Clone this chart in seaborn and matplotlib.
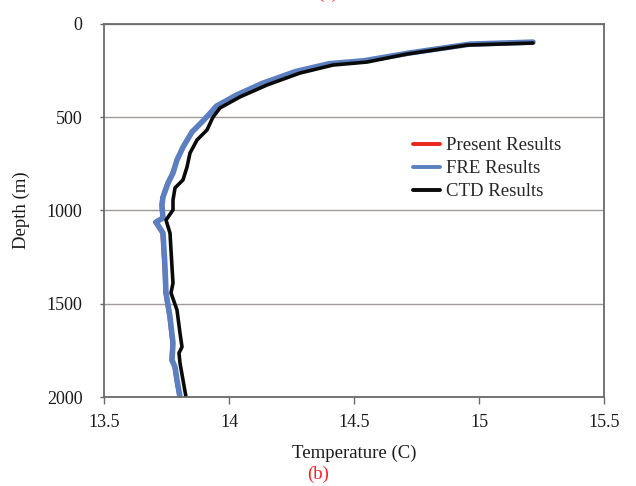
import numpy as np
import pandas as pd
import matplotlib
matplotlib.use("Agg")
import matplotlib.pyplot as plt
import seaborn as sns

# ---- data ----
ctd_temp = [15.216, 14.952, 14.712, 14.552, 14.416, 14.284, 14.152, 14.044, 13.964, 13.936,
            13.912, 13.872, 13.844, 13.832, 13.816, 13.784, 13.776, 13.776, 13.748, 13.764,
            13.772, 13.776, 13.768, 13.792, 13.804, 13.812, 13.800, 13.804, 13.816, 13.828]
ctd_depth = [102, 113, 161, 204, 220, 263, 327, 391, 450, 499,
             568, 622, 692, 767, 836, 879, 944, 997, 1051, 1121,
             1303, 1389, 1442, 1534, 1657, 1732, 1764, 1818, 1909, 2000]

fre_temp = [15.216, 14.964, 14.724, 14.540, 14.400, 14.266, 14.134, 14.030, 13.950, 13.920,
            13.892, 13.852, 13.816, 13.792, 13.776, 13.756, 13.736, 13.732, 13.736, 13.708,
            13.736, 13.744, 13.748, 13.764, 13.776, 13.772, 13.784, 13.792, 13.804]
fre_depth = [97, 108, 155, 197, 213, 255, 318, 381, 440, 485,
             525, 579, 660, 729, 799, 853, 928, 971, 1040, 1062,
             1121, 1303, 1442, 1571, 1711, 1802, 1839, 1909, 2000]

present_temp = [15.216, 14.960, 14.720, 14.536, 14.396, 14.262, 14.130, 14.026, 13.946, 13.916,
                13.888, 13.848, 13.812, 13.788, 13.770, 13.750, 13.730, 13.726, 13.730, 13.700,
                13.730, 13.738, 13.742, 13.758, 13.770, 13.766, 13.778, 13.786, 13.798]
present_depth = fre_depth

xticks = [13.5, 14, 14.5, 15, 15.5]
xtick_labels = ["13.5", "14", "14.5", "15", "15.5"]
yticks = [0, 500, 1000, 1500, 2000]
ytick_labels = ["0", "500", "1000", "1500", "2000"]

df = pd.concat([
    pd.DataFrame({"T": present_temp, "D": present_depth, "Series": "Present Results"}),
    pd.DataFrame({"T": fre_temp, "D": fre_depth, "Series": "FRE Results"}),
    pd.DataFrame({"T": ctd_temp, "D": ctd_depth, "Series": "CTD Results"}),
], ignore_index=True)

sns.set_theme(style="white")
plt.rcParams["font.family"] = ["Liberation Serif", "DejaVu Serif"]

fig = plt.figure(figsize=(6.36, 4.86), dpi=100)
ax = fig.add_axes([104/636, 1-397/486, 500/636, 373/486])

styles = {"Present Results": ("#e8261c", 1.6),
          "FRE Results": ("#5b7fc0", 4.0),
          "CTD Results": ("#0a0a0a", 2.6)}
for name, (col, lw) in styles.items():
    sub = df[df["Series"] == name]
    sns.lineplot(data=sub, x="T", y="D", sort=False, estimator=None, ax=ax,
                 color=col, linewidth=lw, label=name)

ax.set_xlim(13.5, 15.5)
ax.set_ylim(2000, 0)
ax.set_xticks(xticks)
ax.set_xticklabels(xtick_labels)
ax.set_yticks(yticks)
ax.set_yticklabels(ytick_labels)
ax.yaxis.grid(True, color="#a09a98", linewidth=1.0)
ax.xaxis.grid(False)
ax.set_axisbelow(True)
for s in ax.spines.values():
    s.set_color("#6a6a6a")
    s.set_linewidth(1.3)
ax.tick_params(axis="x", direction="out", length=5, width=1, color="#6a6a6a",
               labelsize=13, pad=7, bottom=True, labelcolor="#1a1a1a")
ax.tick_params(axis="y", direction="out", length=3, width=1, color="#6a6a6a",
               labelsize=13, pad=12.5, left=True, labelcolor="#1a1a1a")
ax.set_xlabel("Temperature (C)", fontsize=13.5, labelpad=10, color="#1a1a1a")
ax.set_ylabel("Depth (m)", fontsize=13.5, labelpad=12, color="#1a1a1a")

leg = ax.legend(loc="upper left", bbox_to_anchor=((413-104)/500, (397-137)/373),
                frameon=False, fontsize=13.5, handlelength=1.45, handletextpad=0.3,
                labelspacing=0.32, borderpad=0, borderaxespad=0)
for h in leg.get_lines():
    h.set_linewidth(2.8)

fig.text(0.5, 1 - 474/486, "(b)", color="#ff2020", fontsize=13.5, ha="center", va="center")
fig.text(0.515, 1 + 2/486, "(a)", color="#ff2020", fontsize=13.5, ha="center", va="baseline")

fig.savefig("out.png", dpi=100, facecolor="white")
